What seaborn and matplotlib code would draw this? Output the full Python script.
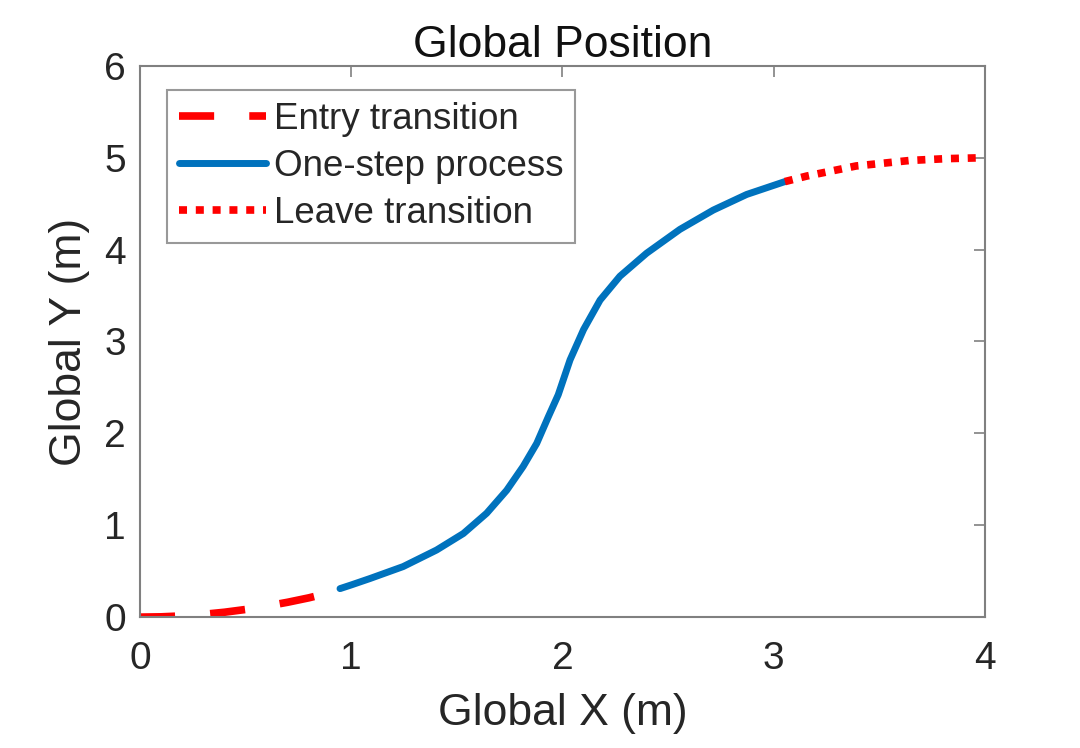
import matplotlib
matplotlib.use("Agg")
import matplotlib.pyplot as plt
import seaborn as sns
import pandas as pd

# Data
entry_x = [0.0, 0.1, 0.2, 0.3, 0.4, 0.5, 0.6, 0.7, 0.8, 0.9, 0.947]
entry_y = [0.0, 0.003, 0.013, 0.03, 0.053, 0.083, 0.12, 0.162, 0.21, 0.267, 0.30]

step_x = [0.947, 1.0, 1.089, 1.246, 1.404, 1.531, 1.641, 1.736, 1.814, 1.878,
          1.933, 1.98, 2.036, 2.10, 2.178, 2.272, 2.398, 2.556, 2.714, 2.872, 3.053]
step_y = [0.31, 0.35, 0.42, 0.55, 0.73, 0.91, 1.13, 1.38, 1.64, 1.89,
          2.18, 2.42, 2.80, 3.13, 3.45, 3.71, 3.96, 4.22, 4.43, 4.60, 4.74]

leave_x = [3.053, 3.156, 3.39, 3.645, 3.82, 4.0]
leave_y = [4.74, 4.80, 4.91, 4.97, 4.99, 5.0]

labels = ["Entry transition", "One-step process", "Leave transition"]
x_ticks = [0, 1, 2, 3, 4]
y_ticks = [0, 1, 2, 3, 4, 5, 6]

sns.set_style("white")
plt.rcParams['font.family'] = ['Liberation Sans', 'DejaVu Sans']

fig = plt.figure(figsize=(10.8, 7.48), dpi=100)
ax = fig.add_axes([0.1296, 0.175, 0.7824, 0.737])

red = "#FF0000"
blue = "#0072BD"

sns.lineplot(data=pd.DataFrame({"x": entry_x, "y": entry_y}), x="x", y="y", ax=ax,
             color=red, lw=5.5, label=labels[0], sort=False, estimator=None)
ax.lines[-1].set_dashes([4.6, 4.6])
ax.lines[-1].set_dash_capstyle("butt")

sns.lineplot(data=pd.DataFrame({"x": step_x, "y": step_y}), x="x", y="y", ax=ax,
             color=blue, lw=5, label=labels[1], sort=False, estimator=None)
ax.lines[-1].set_solid_joinstyle("round")

sns.lineplot(data=pd.DataFrame({"x": leave_x, "y": leave_y}), x="x", y="y", ax=ax,
             color=red, lw=5.5, label=labels[2], sort=False, estimator=None)
ax.lines[-1].set_dashes([1.05, 1.15])
ax.lines[-1].set_dash_capstyle("butt")

ax.set_xlim(0, 4)
ax.set_ylim(0, 6)
ax.set_xticks(x_ticks)
ax.set_yticks(y_ticks)
ax.tick_params(direction="in", length=8, width=1.2, color="#808080",
               top=True, right=True, labelsize=28, labelcolor="#262626")
ax.tick_params(axis="x", pad=17)
ax.tick_params(axis="y", pad=10)
for s in ax.spines.values():
    s.set_color("#808080")
    s.set_linewidth(1.5)

ax.set_title("Global Position", fontsize=32, color="#111111", pad=6)
ax.set_xlabel("Global X (m)", fontsize=32, color="#262626", labelpad=12)
ax.set_ylabel("Global Y (m)", fontsize=32, color="#262626", labelpad=10)

leg = ax.legend(loc="upper left", bbox_to_anchor=(0.032, 0.956), fontsize=26.5,
                frameon=True, fancybox=False, edgecolor="#808080",
                handlelength=2.36, handletextpad=0.22, borderpad=0.32,
                labelspacing=0.33, borderaxespad=0)
leg.get_frame().set_linewidth(1.5)

fig.savefig("out.png", dpi=100)
